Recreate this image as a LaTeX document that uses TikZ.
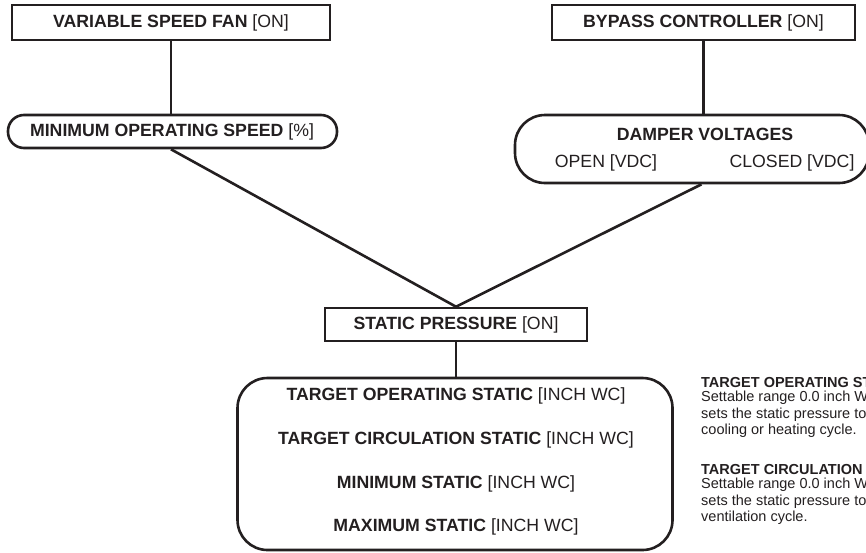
\documentclass[tikz,border=0pt]{standalone}
\usepackage{fontspec}
\setmainfont{Liberation Sans}
\usetikzlibrary{calc}
\definecolor{ink}{HTML}{231F20}

\begin{document}
\begin{tikzpicture}[x=1pt,y=-1pt]
\tikzset{unit/.style = {shape=rectangle,draw=ink,line width=2.6pt,inner sep=0pt,text=ink,font=\fontsize{17.7}{20}\selectfont}}
\tikzset{setting/.style = {shape=rectangle,draw=ink,line width=2.6pt,inner sep=0pt,rounded corners=16pt}}
\tikzset{lbl/.style = {inner sep=0pt,text=ink,font=\fontsize{17.7}{20}\selectfont}}
\tikzset{note/.style = {inner sep=0pt,anchor=west,text=ink,font=\fontsize{14.5}{16}\selectfont}}
\tikzset{edge/.style = {draw=ink,line width=2.6pt}}
\clip (0,0) rectangle (866,552);
\node[unit,minimum width=318,minimum height=35] (fan) at (171,22.5) {\textbf{VARIABLE SPEED FAN} [ON]};
\node[unit,minimum width=303,minimum height=35] (bypass) at (703.5,22.5) {\textbf{BYPASS CONTROLLER} [ON]};
\node[setting,minimum width=329,minimum height=33] (speed) at (172.5,131.5) {};
\node[lbl] (speedlab) at (172,131.5) {\textbf{MINIMUM OPERATING SPEED} [\%]};
\node[setting,rounded corners=30pt,minimum width=354,minimum height=68] (damper) at (692,149) {};
\node[lbl] (damperlab) at (705,134) {\textbf{DAMPER VOLTAGES}};
\node[lbl] (open) at (606,163) {OPEN [VDC]};
\node[lbl] (closed) at (792,163) {CLOSED [VDC]};
\node[unit,minimum width=262,minimum height=33] (static) at (456,324.5) {\textbf{STATIC PRESSURE} [ON]};
\node[setting,rounded corners=30pt,minimum width=435,minimum height=172] (target) at (455,464) {};
\node[lbl] (t1) at (456,396) {\textbf{TARGET OPERATING STATIC} [INCH WC]};
\node[lbl] (t2) at (456,440) {\textbf{TARGET CIRCULATION STATIC} [INCH WC]};
\node[lbl] (t3) at (456,484) {\textbf{MINIMUM STATIC} [INCH WC]};
\node[lbl] (t4) at (456,527) {\textbf{MAXIMUM STATIC} [INCH WC]};

\draw[edge] (fan.south) -- (fan.south |- speed.north);
\draw[edge] (bypass.south) -- (bypass.south |- damper.north);
\draw[edge] (speed.south -| fan.south) -- (static.north);
\draw[edge] ($(damper.south -| bypass.south)+(-2,0)$) -- (static.north);
\draw[edge] (static.south) -- (static.south |- target.north);

% notes on the right
\node[note] (n1) at (701,382) {\textbf{TARGET OPERATING STATIC}};
\node[note] (n2) at (701,398) {Settable range 0.0 inch WC};
\node[note] (n3) at (701,414.5) {sets the static pressure to};
\node[note] (n4) at (701,431) {cooling or heating cycle.};
\node[note] (n5) at (701,469) {\textbf{TARGET CIRCULATION STATIC}};
\node[note] (n6) at (701,485) {Settable range 0.0 inch WC};
\node[note] (n7) at (701,501.5) {sets the static pressure to};
\node[note] (n8) at (701,518) {ventilation cycle.};
\end{tikzpicture}
\end{document}
